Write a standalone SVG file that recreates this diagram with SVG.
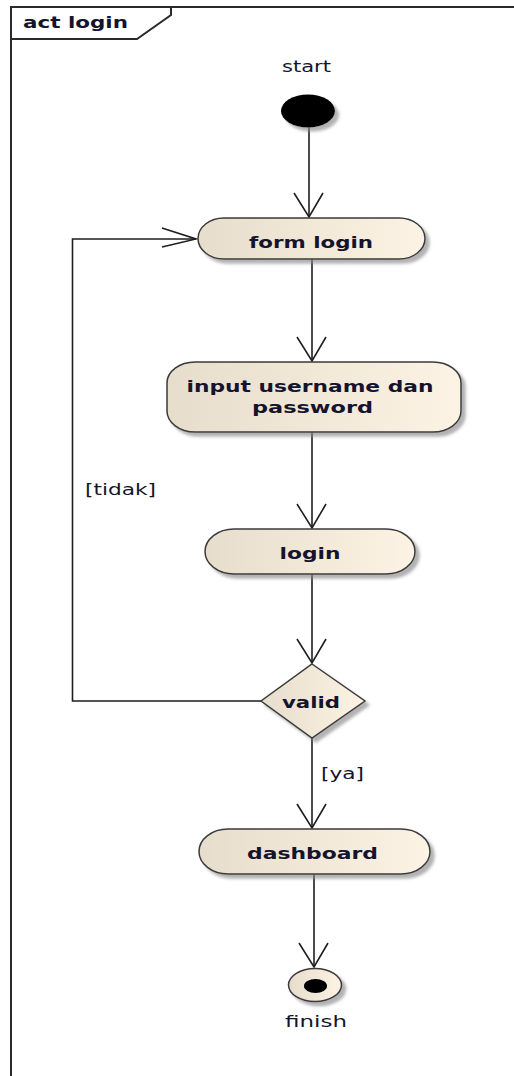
<svg xmlns="http://www.w3.org/2000/svg" xmlns:xlink="http://www.w3.org/1999/xlink" width="514" height="1076" viewBox="0 0 514 1076">
<style>
  .frame{fill:none;stroke:#2a2a2a;stroke-width:2}
  .node{stroke:#3a3a3a;stroke-width:1.5;fill:url(#nodeFill);filter:url(#shadow)}
  .edge{fill:none;stroke:#1e1e1e;stroke-width:1.6}
  .head{fill:none;stroke:#1e1e1e;stroke-width:1.6;stroke-linejoin:miter}
  .lbl{font-family:"DejaVu Sans","Liberation Sans",sans-serif;font-weight:bold;font-size:16.5px;fill:#14142e;text-anchor:middle}
  .txt{font-family:"DejaVu Sans","Liberation Sans",sans-serif;font-size:15px;fill:#14142e;text-anchor:middle}
</style>
<defs>
  <linearGradient id="nodeFill" x1="0" y1="0" x2="1" y2="0">
    <stop offset="0" stop-color="#e6ddcc"/>
    <stop offset="1" stop-color="#fcf3e4"/>
  </linearGradient>
  <filter id="shadow" x="-20%" y="-30%" width="150%" height="170%">
    <feDropShadow dx="4" dy="4" stdDeviation="1.6" flood-color="#8a8a8a" flood-opacity="0.65"/>
  </filter>
  <path id="headDown" d="M-15,-24 L0,0 L14,-24"/>
  <path id="headRight" d="M-34,-11 L0,0 L-34,8"/>
</defs>
<rect width="514" height="1076" fill="#ffffff"/>

<g id="frame">
  <path class="frame" d="M11,1076 L11,7 L514,7"/>
  <path class="frame" d="M11,39 L137,39 L171,15 L171,7"/>
  <text x="75.5" y="28" class="lbl" textLength="105" lengthAdjust="spacingAndGlyphs">act login</text>
</g>

<g id="connectors">
  <line class="edge" x1="309" y1="126" x2="309" y2="217"/>
  <use xlink:href="#headDown" class="head" x="309" y="217"/>
  <line class="edge" x1="312" y1="259" x2="312" y2="361"/>
  <use xlink:href="#headDown" class="head" x="312" y="361"/>
  <line class="edge" x1="312" y1="432" x2="312" y2="528"/>
  <use xlink:href="#headDown" class="head" x="312" y="528"/>
  <line class="edge" x1="312" y1="574" x2="312" y2="663"/>
  <use xlink:href="#headDown" class="head" x="312" y="663"/>
  <line class="edge" x1="312" y1="738" x2="312" y2="828"/>
  <use xlink:href="#headDown" class="head" x="312" y="828"/>
  <line class="edge" x1="314" y1="874" x2="314" y2="967"/>
  <use xlink:href="#headDown" class="head" x="314" y="967"/>
  <path class="edge" d="M261,701 L72.5,701 L72.5,239 L196,239"/>
  <use xlink:href="#headRight" class="head" x="196" y="239"/>
  <text x="120.5" y="495" class="txt" textLength="71" lengthAdjust="spacingAndGlyphs">[tidak]</text>
  <text x="342.5" y="779" class="txt" textLength="43" lengthAdjust="spacingAndGlyphs">[ya]</text>
</g>

<g id="start">
  <text x="306.5" y="72" class="txt" textLength="49" lengthAdjust="spacingAndGlyphs">start</text>
  <ellipse cx="308" cy="111" rx="27" ry="16.5" fill="#000" filter="url(#shadow)"/>
</g>

<g id="form-login">
  <rect class="node" x="198" y="218" width="227" height="41" rx="26" ry="20.5"/>
  <text x="311" y="248" class="lbl" textLength="124" lengthAdjust="spacingAndGlyphs">form login</text>
</g>

<g id="input-username">
  <rect class="node" x="167" y="362" width="294" height="70" rx="28" ry="21"/>
  <text x="310" y="392" class="lbl" textLength="247" lengthAdjust="spacingAndGlyphs">input username dan</text>
  <text x="312.5" y="413" class="lbl" textLength="121" lengthAdjust="spacingAndGlyphs">password</text>
</g>

<g id="login">
  <rect class="node" x="205" y="529" width="210" height="45" rx="29" ry="22.5"/>
  <text x="310" y="559" class="lbl" textLength="61" lengthAdjust="spacingAndGlyphs">login</text>
</g>

<g id="valid">
  <polygon class="node" points="312,664 365,701 312,738 261,701"/>
  <text x="311" y="708" class="lbl" textLength="58" lengthAdjust="spacingAndGlyphs">valid</text>
</g>

<g id="dashboard">
  <rect class="node" x="199" y="829" width="231" height="45" rx="29" ry="22.5"/>
  <text x="312.5" y="859" class="lbl" textLength="131" lengthAdjust="spacingAndGlyphs">dashboard</text>
</g>

<g id="finish">
  <ellipse cx="315" cy="985" rx="26.5" ry="16.5" fill="url(#nodeFill)" stroke="#3a3a3a" stroke-width="1.5" filter="url(#shadow)"/>
  <ellipse cx="315.5" cy="986" rx="11.5" ry="7" fill="#000"/>
  <text x="316" y="1027" class="txt" textLength="62" lengthAdjust="spacingAndGlyphs">finish</text>
</g>
</svg>
